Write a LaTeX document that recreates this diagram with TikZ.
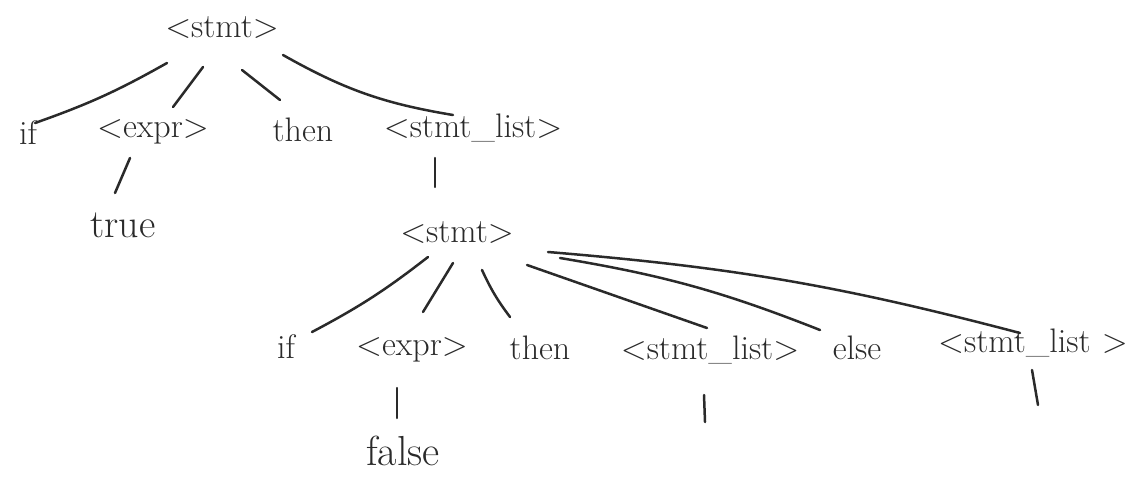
\documentclass[tikz,border=0pt]{standalone}
\usepackage{fontspec}
\definecolor{ink}{HTML}{2A2A2A}
\tikzset{
  word/.style={inner sep=0pt, text=ink, font=\fontsize{34}{40}\selectfont},
  bigword/.style={word, font=\fontsize{40}{46}\selectfont},
  edge/.style={draw=ink, line width=2.5pt, line cap=round},
}
\begin{document}
\begin{tikzpicture}[x=1pt,y=-1pt]
\useasboundingbox (0,0) rectangle (1147,478);
% level 0
\node[word] (stmt1) at (222,28) {<stmt>};
% level 1
\node[word] (if1)   at (28,133)  {if};
\node[word] (expr1) at (153,132) {<expr>};
\node[word] (then1) at (303,130) {then};
\node[word] (sl1)   at (473,128) {<stmt\_list>};
\node[bigword] (true) at (123,225) {true};
\node[word] (stmt2) at (457,233) {<stmt>};
% level 2
\node[word] (if2)   at (286,347) {if};
\node[word] (expr2) at (412,350) {<expr>};
\node[word] (then2) at (540,348) {then};
\node[word] (sl2)   at (710,350) {<stmt\_list>};
\node[word] (else)  at (857,348) {else};
\node[word] (sl3)   at (1033,343) {<stmt\_list\,\,>};
\node[bigword, font=\fontsize{42}{48}\selectfont] (false) at (403,451) {false};
\coordinate (sl2tail) at (705,422);
\coordinate (sl3tail) at (1038,405);
% connectors
\draw[edge] ([shift={(-55,35)}]stmt1.center) to[bend left=5] ([shift={(7,-10)}]if1.center);
\draw[edge] ([shift={(-19,39)}]stmt1.center) -- ([shift={(20,-25)}]expr1.center);
\draw[edge] ([shift={(20,42)}]stmt1.center) -- ([shift={(-23,-30)}]then1.center);
\draw[edge] ([shift={(61,27)}]stmt1.center) to[bend right=10] ([shift={(-20,-13)}]sl1.center);
\draw[edge] ([shift={(-23,26)}]expr1.center) -- ([shift={(-8,-32)}]true.center);
\draw[edge] ([shift={(-38,30)}]sl1.center) -- ([shift={(-22,-46)}]stmt2.center);
\draw[edge] ([shift={(-29,24)}]stmt2.center) to[bend left=5] ([shift={(26,-15)}]if2.center);
\draw[edge] ([shift={(-4,30)}]stmt2.center) -- ([shift={(11,-38)}]expr2.center);
\draw[edge] ([shift={(25,37)}]stmt2.center) to[bend right=6] ([shift={(-30,-31)}]then2.center);
\draw[edge] ([shift={(70,32)}]stmt2.center) -- ([shift={(-3,-22)}]sl2.center);
\draw[edge] ([shift={(103,25)}]stmt2.center) to[bend left=6] ([shift={(-37,-18)}]else.center);
\draw[edge] ([shift={(91,19)}]stmt2.center) to[bend left=5] ([shift={(-13,-10)}]sl3.center);
\draw[edge] ([shift={(-15,38)}]expr2.center) -- ([shift={(-6,-33)}]false.center);
\draw[edge] ([shift={(-6,45)}]sl2.center) -- (sl2tail);
\draw[edge] ([shift={(-1,27)}]sl3.center) -- (sl3tail);
\end{tikzpicture}
\end{document}
